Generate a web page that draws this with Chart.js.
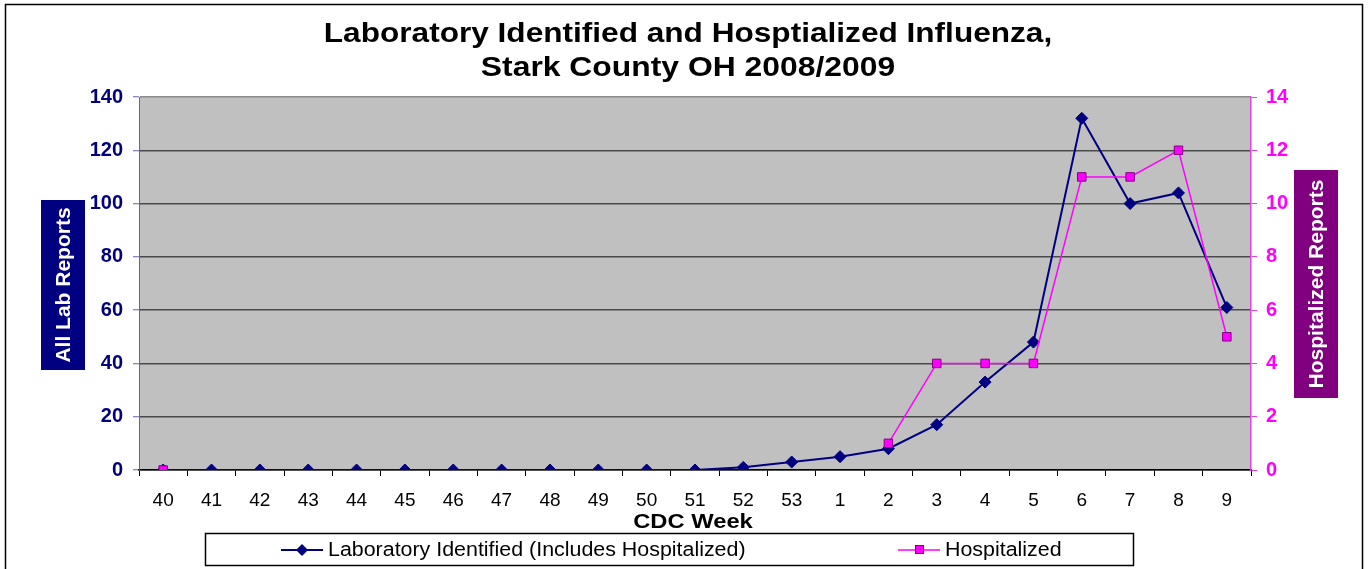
<!DOCTYPE html>
<html>
<head>
<meta charset="utf-8">
<script src="https://cdn.jsdelivr.net/npm/chart.js@4"></script>
<style>
body{margin:0;background:#fff;}
#wrap{width:1369px;height:569px;position:relative;}
</style>
</head>
<body>
<div id="wrap"><canvas id="fluChart" width="1369" height="569"></canvas></div>
<script>
const weeks = ['40','41','42','43','44','45','46','47','48','49','50','51','52','53','1','2','3','4','5','6','7','8','9'];
const labReports = [0,0,0,0,0,0,0,0,0,0,0,0,1,3,5,8,17,33,48,132,100,104,61];
const hospReports = [0,null,null,null,null,null,null,null,null,null,null,null,null,null,null,1,4,4,4,11,11,12,5];
const leftTicks = [0,20,40,60,80,100,120,140];
const rightTicks = [0,2,4,6,8,10,12,14];
const titleLines = ['Laboratory Identified and Hosptialized Influenza,','Stark County OH 2008/2009'];

const NAVY = '#000080';
const PINK = '#ff00ff';
const PURPLE = '#800080';
const FONT = "'Liberation Sans', Arial, sans-serif";

// text a bit wider than the font, like the stretched original
function wideText(ctx,txt,x,y,sx){
     ctx.save();
     ctx.translate(x,y);
     ctx.scale(sx,1);
     ctx.fillText(txt,0,0);
     ctx.restore();
}

// plot background, frame, title, axis title boxes, legend
const decorPlugin = {
     id:'decor',
     beforeDraw(chart){
          const ctx = chart.ctx;
          const a = chart.chartArea;
          ctx.save();
          ctx.fillStyle = '#fff';
          ctx.fillRect(0,0,chart.width,chart.height);
          ctx.fillStyle = '#c0c0c0';
          ctx.fillRect(a.left,a.top,a.right-a.left,a.bottom-a.top);
          ctx.strokeStyle = '#000';
          ctx.lineWidth = 1.5;
          ctx.strokeRect(5.5,4.5,1357,620);
          ctx.restore();
     },
     afterDraw(chart){
          const ctx = chart.ctx;
          ctx.save();
          // title
          ctx.fillStyle = '#000';
          ctx.font = 'bold 27px '+FONT;
          ctx.textAlign = 'center';
          ctx.textBaseline = 'alphabetic';
          wideText(ctx,titleLines[0],688,42,1.17);
          wideText(ctx,titleLines[1],688,76,1.18);

          // y axis titles in boxes
          ctx.fillStyle = NAVY;
          ctx.fillRect(41,200,44,170);
          ctx.fillStyle = PURPLE;
          ctx.fillRect(1294,170,44,228);
          ctx.fillStyle = '#fff';
          ctx.font = 'bold 21px '+FONT;
          ctx.textBaseline = 'middle';
          ctx.translate(64,285);
          ctx.rotate(-Math.PI/2);
          ctx.fillText('All Lab Reports',0,0);
          ctx.setTransform(1,0,0,1,0,0);
          ctx.translate(1317,284);
          ctx.rotate(-Math.PI/2);
          ctx.fillText('Hospitalized Reports',0,0);
          ctx.setTransform(1,0,0,1,0,0);

          // x axis title
          ctx.fillStyle = '#000';
          ctx.font = 'bold 21px '+FONT;
          wideText(ctx,'CDC Week',693,522,1.13);

          // legend
          ctx.strokeStyle = '#000';
          ctx.lineWidth = 1.5;
          ctx.strokeRect(205.5,533.5,928,32);
          ctx.font = '20px '+FONT;
          ctx.textAlign = 'left';
          ctx.strokeStyle = NAVY;
          ctx.lineWidth = 2;
          ctx.beginPath();ctx.moveTo(281,550);ctx.lineTo(323,550);ctx.stroke();
          ctx.fillStyle = NAVY;
          ctx.beginPath();ctx.moveTo(302,544);ctx.lineTo(308,550);ctx.lineTo(302,556);ctx.lineTo(296,550);ctx.closePath();ctx.fill();
          ctx.fillStyle = '#000';
          wideText(ctx,'Laboratory Identified (Includes Hospitalized)',328,550,1.07);
          ctx.strokeStyle = PINK;
          ctx.lineWidth = 1.5;
          ctx.beginPath();ctx.moveTo(898,550);ctx.lineTo(940,550);ctx.stroke();
          ctx.fillStyle = PINK;
          ctx.fillRect(915,545,9,9);
          ctx.strokeStyle = PURPLE;
          ctx.lineWidth = 1;
          ctx.strokeRect(915.5,545.5,8,8);
          ctx.fillStyle = '#000';
          wideText(ctx,'Hospitalized',945,550,1.07);
          ctx.restore();
     }
};

const ctx = document.getElementById('fluChart').getContext('2d');
const fluChart = new Chart(ctx,{
     type:'line',
     data:{
          labels:weeks,
          datasets:[
               {
                    label:'Laboratory Identified (Includes Hospitalized)',
                    data:labReports,
                    yAxisID:'y',
                    order:2,
                    borderColor:NAVY,
                    backgroundColor:NAVY,
                    borderWidth:2,
                    pointStyle:'rectRot',
                    pointRadius:6,
                    pointBorderWidth:1,
                    pointBorderColor:NAVY,
                    pointBackgroundColor:NAVY,
                    tension:0
               },
               {
                    label:'Hospitalized',
                    data:hospReports,
                    yAxisID:'y1',
                    order:1,
                    spanGaps:false,
                    borderColor:PINK,
                    backgroundColor:PINK,
                    borderWidth:1.5,
                    pointStyle:'rect',
                    pointRadius:6,
                    pointBorderWidth:1,
                    pointBorderColor:PURPLE,
                    pointBackgroundColor:PINK,
                    tension:0
               }
          ]
     },
     options:{
          responsive:false,
          animation:false,
          layout:{padding:{left:5,right:0,top:97,bottom:0}},
          plugins:{
               legend:{display:false},
               tooltip:{enabled:false},
               title:{display:false}
          },
          scales:{
               x:{
                    offset:true,
                    afterFit:(s)=>{s.height = 99;},
                    border:{color:'#000',width:1.5},
                    grid:{
                         offset:true,
                         drawOnChartArea:false,
                         drawTicks:true,
                         tickLength:6,
                         color:'#000'
                    },
                    ticks:{
                         color:'#000',
                         padding:13,
                         maxRotation:0,
                         autoSkip:false,
                         font:{family:FONT,size:19}
                    }
               },
               y:{
                    position:'left',
                    min:0,
                    max:140,
                    afterFit:(s)=>{s.width = 134;},
                    afterBuildTicks:(s)=>{s.ticks = leftTicks.map(v=>({value:v}));},
                    border:{color:'#6060b0',width:1},
                    grid:{
                         color:(c)=> c.tick && c.tick.value==140 ? '#8a8a8a' : '#4a4a4a',
                         lineWidth:1.5,
                         tickLength:6,
                         tickColor:'#6060b0',
                         tickWidth:1
                    },
                    ticks:{
                         color:NAVY,
                         padding:10,
                         font:{family:FONT,size:20,weight:'bold'}
                    }
               },
               y1:{
                    position:'right',
                    min:0,
                    max:14,
                    afterFit:(s)=>{s.width = 118;},
                    afterBuildTicks:(s)=>{s.ticks = rightTicks.map(v=>({value:v}));},
                    border:{color:'#e040e0',width:1.5},
                    grid:{
                         drawOnChartArea:false,
                         tickLength:6,
                         color:'#e040e0'
                    },
                    ticks:{
                         color:PINK,
                         padding:9,
                         font:{family:FONT,size:20,weight:'bold'}
                    }
               }
          }
     },
     plugins:[decorPlugin]
});
</script>
</body>
</html>
